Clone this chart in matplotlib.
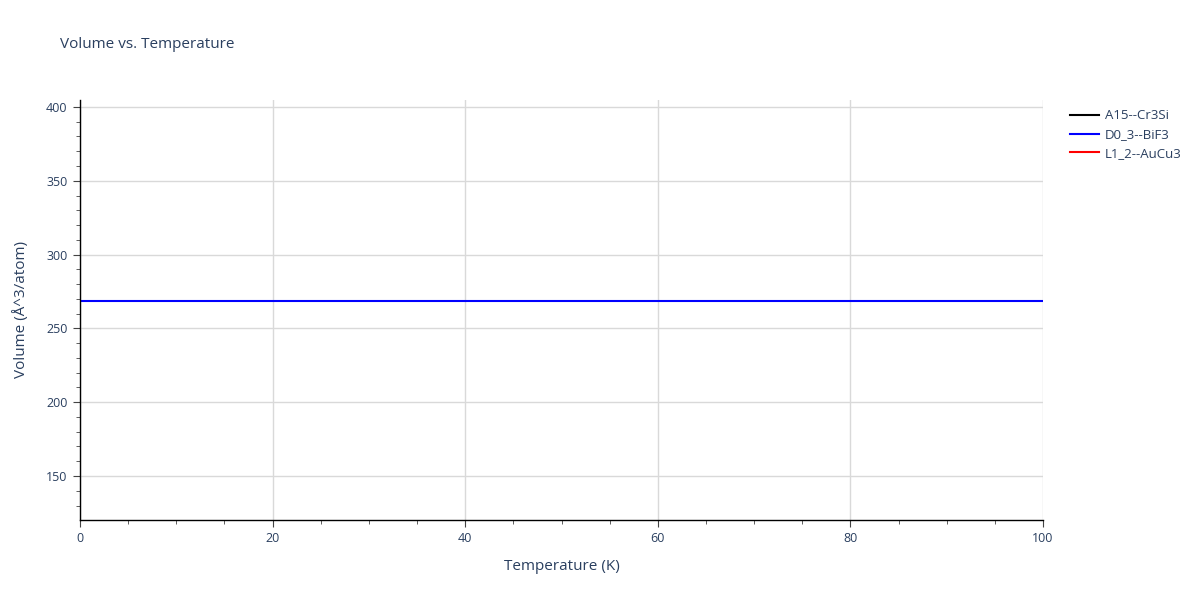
import matplotlib.pyplot as plt
from matplotlib.ticker import MultipleLocator

plt.rcParams['font.family'] = ['Open Sans', 'DejaVu Sans']

# data
temperature = [0, 10, 20, 30, 40, 50, 60, 70, 80, 90, 100]
vol_a15 = []          # A15--Cr3Si: nothing visible
vol_d03 = [268.6] * len(temperature)   # D0_3--BiF3
vol_l12 = []          # L1_2--AuCu3: nothing visible

txt = '#2a3f5f'

fig = plt.figure(figsize=(12, 6), dpi=100)
ax = fig.add_axes([80/1200, 80/600, (1043-80)/1200, 420/600])

ax.plot(temperature[:len(vol_a15)], vol_a15, color='black', lw=1.5, label='A15--Cr3Si')
ax.plot(temperature, vol_d03, color='blue', lw=1.5, label='D0_3--BiF3')
ax.plot(temperature[:len(vol_l12)], vol_l12, color='red', lw=1.5, label='L1_2--AuCu3')

ax.set_xlim(0, 100)
ax.set_ylim(120.2, 404.7)
ax.xaxis.set_major_locator(MultipleLocator(20))
ax.xaxis.set_minor_locator(MultipleLocator(5))
ax.set_yticks([150, 200, 250, 300, 350, 400])
ax.yaxis.set_minor_locator(MultipleLocator(10))

ax.grid(True, which='major', color='#d9d9d9', lw=1)
ax.set_axisbelow(True)
for s in ['top', 'right']:
    ax.spines[s].set_visible(False)
for s in ['left', 'bottom']:
    ax.spines[s].set_color('black')
    ax.spines[s].set_linewidth(1)

ax.tick_params(which='major', direction='out', length=5, color='#444444',
               labelsize=9, labelcolor=txt, pad=4)
ax.tick_params(which='minor', direction='out', length=3, color='#444444')

ax.set_xlabel('Temperature (K)', fontsize=11, color=txt, labelpad=10)
ax.set_ylabel('Volume (Å^3/atom)', fontsize=11, color=txt, labelpad=12)

fig.text(60/1200, 1 - 45/600, 'Volume vs. Temperature', fontsize=11,
         color=txt, va='center', ha='left')

leg = ax.legend(loc='upper left', bbox_to_anchor=(1.018, 1.0), frameon=False,
                fontsize=9.5, handlelength=2.2, handletextpad=0.45,
                labelspacing=0.45, borderaxespad=0.3)
for t in leg.get_texts():
    t.set_color(txt)

fig.savefig('out.png', dpi=100)
